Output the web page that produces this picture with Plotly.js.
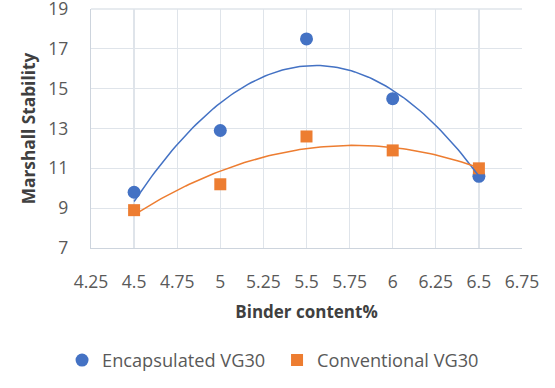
<!DOCTYPE html>
<html><head><meta charset="utf-8">
<script src="https://cdn.plot.ly/plotly-3.0.1.min.js"></script>
<style>html,body{margin:0;padding:0;background:#fff}#chart{width:555px;height:388px}</style>
</head><body><div id="chart"></div>
<script>
const binderContent = [4.5, 5, 5.5, 6, 6.5];
const encapsulated = [9.8, 12.9, 17.5, 14.5, 10.6];
const conventional = [8.9, 10.2, 12.6, 11.9, 11.0];
const xTickVals = [4.25, 4.5, 4.75, 5, 5.25, 5.5, 5.75, 6, 6.25, 6.5, 6.75];
const xTickText = ["4.25", "4.5", "4.75", "5", "5.25", "5.5", "5.75", "6", "6.25", "6.5", "6.75"];
const yTickVals = [7, 9, 11, 13, 15, 17, 19];

function quadFit(xs, ys) {
  // least squares y = a + b x + c x^2 (Excel polynomial trendline, order 2)
  let S = [0,0,0,0,0], T = [0,0,0];
  for (let i = 0; i < xs.length; i++) {
    const x = xs[i], y = ys[i];
    for (let k = 0; k < 5; k++) S[k] += Math.pow(x, k);
    for (let k = 0; k < 3; k++) T[k] += y * Math.pow(x, k);
  }
  const M = [[S[0],S[1],S[2],T[0]],[S[1],S[2],S[3],T[1]],[S[2],S[3],S[4],T[2]]];
  for (let i = 0; i < 3; i++) {
    for (let j = i+1; j < 3; j++) {
      const f = M[j][i]/M[i][i];
      for (let k = i; k < 4; k++) M[j][k] -= f*M[i][k];
    }
  }
  const r = [0,0,0];
  for (let i = 2; i >= 0; i--) {
    let s = M[i][3];
    for (let k = i+1; k < 3; k++) s -= M[i][k]*r[k];
    r[i] = s/M[i][i];
  }
  return r;
}
function trend(xs, ys) {
  const c = quadFit(xs, ys);
  const x0 = Math.min(...xs), x1 = Math.max(...xs);
  const tx = [], ty = [];
  for (let i = 0; i <= 100; i++) {
    const x = x0 + (x1 - x0) * i / 100;
    tx.push(x); ty.push(c[0] + c[1]*x + c[2]*x*x);
  }
  return {tx, ty};
}
const BLUE = '#4472C4', ORANGE = '#ED7D31', GRID = '#dfe4ea';
const tb = trend(binderContent, encapsulated);
const to = trend(binderContent, conventional);
const FONT = '"Open Sans", "DejaVu Sans", sans-serif';
const data = [
  {x: binderContent, y: encapsulated, mode: 'markers', type: 'scatter', name: 'Encapsulated VG30',
   marker: {symbol: 'circle', size: 13, color: BLUE}},
  {x: binderContent, y: conventional, mode: 'markers', type: 'scatter', name: 'Conventional VG30',
   marker: {symbol: 'square', size: 12, color: ORANGE}},
  {x: tb.tx, y: tb.ty, mode: 'lines', type: 'scatter', showlegend: false, hoverinfo: 'skip',
   line: {color: BLUE, width: 1.5}},
  {x: to.tx, y: to.ty, mode: 'lines', type: 'scatter', showlegend: false, hoverinfo: 'skip',
   line: {color: ORANGE, width: 1.5}}
];
const layout = {
  width: 555, height: 388,
  margin: {l: 91, r: 33, t: 9, b: 132},
  paper_bgcolor: '#fff', plot_bgcolor: '#fff',
  font: {family: FONT, color: '#595959', size: 17},
  showlegend: true,
  legend: {orientation: 'h', x: -0.0672, xanchor: 'left', y: -0.4696, yanchor: 'middle',
           font: {family: FONT, size: 18.2, color: '#595959'}, itemwidth: 30,
           entrywidth: 170, traceorder: 'normal'},
  shapes: [
    {type: 'line', layer: 'above', xref: 'paper', x0: 0, x1: 1, yref: 'paper', y0: 1, y1: 1,
     line: {color: GRID, width: 1.3}}
  ],
  xaxis: {range: [4.25, 6.75], tickvals: xTickVals, ticktext: xTickText,
          showgrid: true, gridcolor: GRID, gridwidth: 1.3,
          showline: true, linecolor: '#cdd4dd', linewidth: 1.3, zeroline: false,
          ticks: '', ticklabelstandoff: 18, ticklabeloverflow: 'allow',
          tickfont: {family: FONT, size: 17.5, color: '#595959'},
          title: {text: 'Binder content%', font: {family: FONT, size: 17, color: '#404040', weight: 'bold'}, standoff: 13}},
  yaxis: {range: [7, 19], tickvals: yTickVals,
          showgrid: true, gridcolor: GRID, gridwidth: 1.3,
          showline: true, linecolor: '#cdd4dd', linewidth: 1.3, zeroline: false,
          ticks: '', ticklabelstandoff: 18, ticklabeloverflow: 'allow',
          tickfont: {family: FONT, size: 17.5, color: '#595959'},
          title: {text: 'Marshall Stability', font: {family: FONT, size: 17.3, color: '#404040', weight: 'bold'}, standoff: 8}}
};
Plotly.newPlot('chart', data, layout, {displayModeBar: false, staticPlot: true});
</script></body></html>
